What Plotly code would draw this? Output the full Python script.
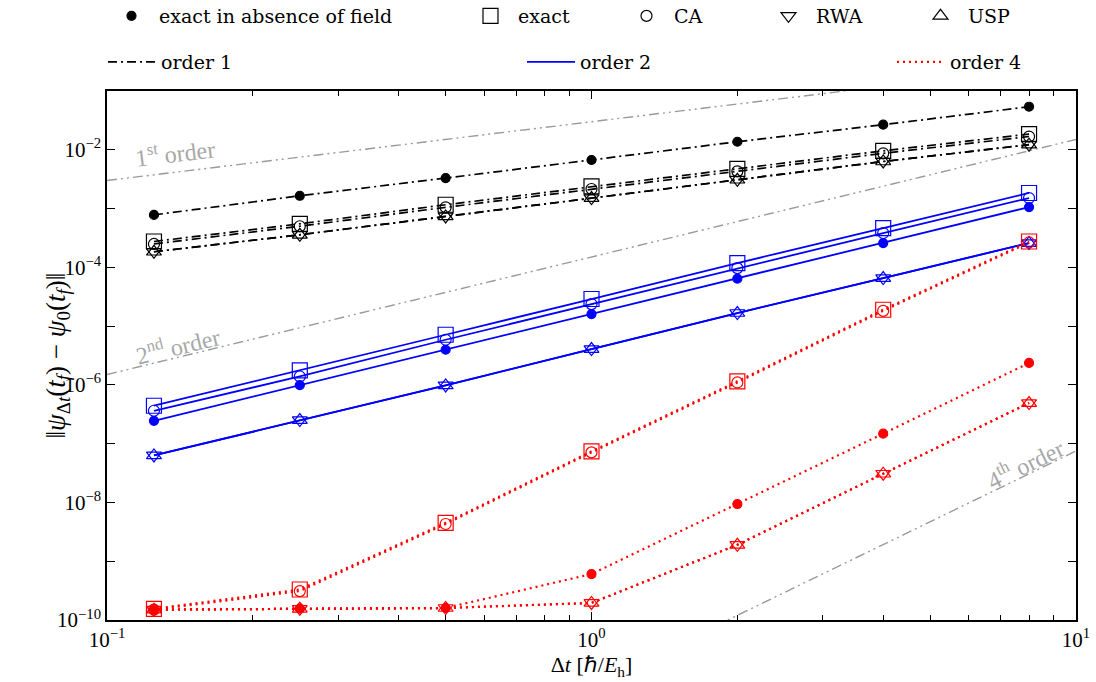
import plotly.graph_objects as go

# time steps (hbar/E_h)
dt = [0.125, 0.25, 0.5, 1.0, 2.0, 4.0, 8.0]

# order-1 propagator errors
o1_nofield = [7.8e-4, 1.65e-3, 3.3e-3, 6.7e-3, 1.37e-2, 2.67e-2, 5.4e-2]
o1_exact = [2.75e-4, 5.5e-4, 1.16e-3, 2.38e-3, 4.75e-3, 9.6e-3, 1.85e-2]
o1_ca = [2.5e-4, 5.0e-4, 1.05e-3, 2.15e-3, 4.3e-3, 8.7e-3, 1.68e-2]
o1_rwa = [1.84e-4, 3.58e-4, 7.34e-4, 1.51e-3, 3.09e-3, 6.32e-3, 1.22e-2]
o1_usp = [1.84e-4, 3.58e-4, 7.34e-4, 1.51e-3, 3.09e-3, 6.32e-3, 1.22e-2]

# order-2 propagator errors
o2_nofield = [2.45e-7, 9.9e-7, 3.96e-6, 1.6e-5, 6.4e-5, 2.59e-4, 1.06e-3]
o2_exact = [4.42e-7, 1.76e-6, 7.13e-6, 2.89e-5, 1.18e-4, 4.66e-4, 1.84e-3]
o2_ca = [3.63e-7, 1.39e-6, 5.86e-6, 2.37e-5, 9.7e-5, 3.83e-4, 1.51e-3]
o2_rwa = [6.3e-8, 2.52e-7, 9.8e-7, 4.07e-6, 1.67e-5, 6.57e-5, 2.59e-4]
o2_usp = [6.3e-8, 2.52e-7, 9.8e-7, 4.07e-6, 1.67e-5, 6.57e-5, 2.59e-4]

# order-4 propagator errors
o4_nofield = [1.5e-10, 1.56e-10, 1.6e-10, 6.05e-10, 9.4e-9, 1.48e-7, 2.36e-6]
o4_exact = [1.55e-10, 3.3e-10, 4.5e-9, 7.4e-8, 1.15e-6, 1.9e-5, 2.75e-4]
o4_ca = [1.5e-10, 3.1e-10, 4.3e-9, 7.1e-8, 1.1e-6, 1.82e-5, 2.65e-4]
o4_rwa = [1.5e-10, 1.55e-10, 1.6e-10, 1.95e-10, 1.9e-9, 3.08e-8, 4.91e-7]
o4_usp = [1.5e-10, 1.55e-10, 1.6e-10, 1.95e-10, 1.9e-9, 3.08e-8, 4.91e-7]

# reference slopes, drawn between dt = 0.1 and dt = 10
guide_dt = [0.1, 10.0]
guide_1st = [3e-3, 3e-1]
guide_2nd = [1.5e-6, 1.5e-2]
guide_4th = [7.5e-16, 7.5e-8]

# legend labels
legend_markers = ["exact in absence of field", "exact", "CA", "RWA", "USP"]
legend_orders = ["order 1", "order 2", "order 4"]

FONT = "Liberation Serif"
LEGEND_FONT = "DejaVu Serif"
GRAY = "#9a9a9a"

DASH = {
    "o1": "9px,4px,2px,4px",
    "o2": "solid",
    "o4": "2px,4px",
}
COLOR = {"o1": "black", "o2": "#0000ff", "o4": "#ff0000"}
WIDTH = {"o1": 1.7, "o2": 1.8, "o4": 2.2}

SYMBOL = {
    "nofield": ("circle", 9),
    "exact": ("square-open", 15),
    "ca": ("circle-open", 11),
    "rwa": ("triangle-down-open", 13),
    "usp": ("triangle-up-open", 13),
}

fig = go.Figure()

# gray reference slopes
guide_dash = "10px,4px,2px,4px,2px,4px"
for g in (guide_1st, guide_2nd, guide_4th):
    fig.add_trace(go.Scatter(
        x=guide_dt, y=g, mode="lines",
        line=dict(color=GRAY, width=1.4, dash=guide_dash),
        showlegend=False, hoverinfo="skip"))

series = {
    "o1": {"exact": o1_exact, "ca": o1_ca, "rwa": o1_rwa, "usp": o1_usp, "nofield": o1_nofield},
    "o2": {"exact": o2_exact, "ca": o2_ca, "rwa": o2_rwa, "usp": o2_usp, "nofield": o2_nofield},
    "o4": {"exact": o4_exact, "ca": o4_ca, "rwa": o4_rwa, "usp": o4_usp, "nofield": o4_nofield},
}

for order, group in series.items():
    for key, vals in group.items():
        sym, size = SYMBOL[key]
        fig.add_trace(go.Scatter(
            x=dt, y=vals, mode="lines+markers",
            line=dict(color=COLOR[order], width=WIDTH[order], dash=DASH[order]),
            marker=dict(symbol=sym, size=size, color=COLOR[order],
                        line=dict(color=COLOR[order], width=1.2)),
            showlegend=False, cliponaxis=False))

# legend entries, each in its own legend box so they sit in two rows
plot_l, plot_r, plot_t, plot_b = 107, 20, 91, 62
W, H = 1096, 682
pw, ph = W - plot_l - plot_r, H - plot_t - plot_b


def px_to_paper(xp, yp):
    return (xp - plot_l) / pw, (H - plot_b - yp) / ph


marker_keys = ["nofield", "exact", "ca", "rwa", "usp"]
row1_x = [104, 463, 619, 761, 913]
row2_x = [103, 522, 892]
legend_names = ["legend"] + [f"legend{i}" for i in range(2, 9)]
legend_layout = {}

for i, (key, name) in enumerate(zip(marker_keys, legend_markers)):
    sym, size = SYMBOL[key]
    lg = legend_names[i]
    fig.add_trace(go.Scatter(
        x=[None], y=[None], mode="markers", name=name, legend=lg,
        marker=dict(symbol=sym, size=size, color="black",
                    line=dict(color="black", width=1.2))))
    lx, ly = px_to_paper(row1_x[i], 16)
    legend_layout[lg] = dict(x=lx, y=ly, xanchor="left", yanchor="middle",
                             orientation="h", bgcolor="rgba(0,0,0,0)",
                             itemwidth=45,
                             font=dict(family=LEGEND_FONT, size=19, color="black"))

for j, (order, name) in enumerate(zip(["o1", "o2", "o4"], legend_orders)):
    lg = legend_names[5 + j]
    fig.add_trace(go.Scatter(
        x=[None], y=[None], mode="lines", name=name, legend=lg,
        line=dict(color=COLOR[order], width=WIDTH[order], dash=DASH[order])))
    lx, ly = px_to_paper(row2_x[j], 62)
    legend_layout[lg] = dict(x=lx, y=ly, xanchor="left", yanchor="middle",
                             orientation="h", bgcolor="rgba(0,0,0,0)",
                             itemwidth=48,
                             font=dict(family=LEGEND_FONT, size=19, color="black"))

y_exps = list(range(-10, 0))
y_tickvals = [10.0 ** e for e in y_exps]
y_ticktext = [f"10<sup>\u2212{-e}</sup>" if e % 2 == 0 else "" for e in y_exps]

x_tickvals = [0.1, 1.0, 10.0]
x_ticktext = ["10<sup>\u22121</sup>", "10<sup>0</sup>", "10<sup>1</sup>"]
x_minor = [m * 0.1 for m in range(2, 10)] + [float(m) for m in range(2, 10)]

axis_common = dict(
    type="log", showline=True, linecolor="black", linewidth=1.5,
    mirror="ticks", ticks="inside", ticklen=8, tickcolor="black",
    showgrid=False, zeroline=False,
    tickfont=dict(family=FONT, size=21, color="black"),
)

fig.update_layout(
    width=W, height=H,
    margin=dict(l=plot_l, r=plot_r, t=plot_t, b=plot_b, autoexpand=False),
    paper_bgcolor="white", plot_bgcolor="white",
    font=dict(family=FONT, color="black"),
    xaxis=dict(
        **axis_common, range=[-1, 1],
        tickmode="array", tickvals=x_tickvals, ticktext=x_ticktext,
        minor=dict(tickmode="array", tickvals=x_minor, ticks="inside",
                   ticklen=5, tickcolor="black", showgrid=False),
        title=dict(text="\u0394<i>t</i> [\u210f/<i>E</i><sub>h</sub>]",
                   font=dict(family=FONT, size=22), standoff=4),
    ),
    yaxis=dict(
        **axis_common, range=[-10, -1],
        tickmode="array", tickvals=y_tickvals, ticktext=y_ticktext,
    ),
    **legend_layout,
)

# y-axis title placed as a rotated annotation beside the tick labels
fig.add_annotation(
    x=-50 / pw, y=0.5, xref="paper", yref="paper", showarrow=False,
    textangle=-90, xanchor="center", yanchor="middle",
    text="\u2016<i>\u03c8</i><sub>\u0394<i>t</i></sub>(<i>t</i><sub><i>f</i></sub>) \u2212 "
         "<i>\u03c8</i><sub>0</sub>(<i>t</i><sub><i>f</i></sub>)\u2016",
    font=dict(family=FONT, size=27, color="black"))

# slope labels, rotated along their guide lines
label_font = dict(family=FONT, size=24, color="#a8a8a8")
for text, lx, ly, ang in [
    ("1<sup>st</sup> order", -0.86, -2.03, -6.9),
    ("2<sup>nd</sup> order", -0.855, -5.32, -13.6),
    ("4<sup>th</sup> order", 0.895, -7.33, -25.9),
]:
    fig.add_annotation(x=lx, y=ly, xref="x", yref="y", text=text,
                       showarrow=False, textangle=ang, font=label_font)

fig.write_html("out.html")
